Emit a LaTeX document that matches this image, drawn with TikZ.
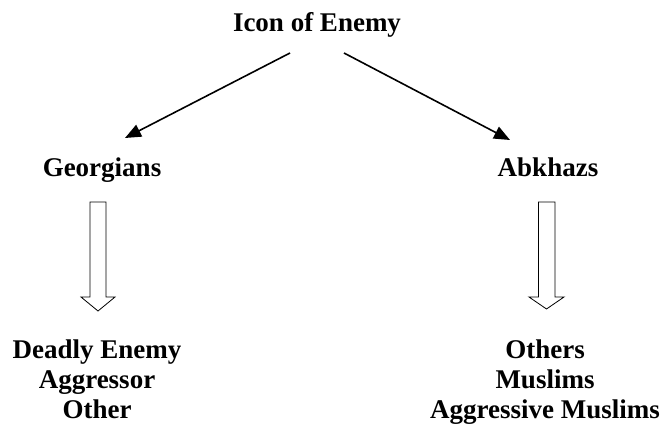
\documentclass[tikz,border=0pt]{standalone}
\usepackage{fontspec}
\setmainfont{Liberation Serif}
\usetikzlibrary{arrows.meta}
\begin{document}
\begin{tikzpicture}[x=1pt,y=-1pt,
  lbl/.style={font=\bfseries\fontsize{27}{30}\selectfont, inner sep=0pt, anchor=base},
  conn/.style={line width=1.6pt, -{Triangle[length=16pt,width=13pt]}},
  hollow/.style={draw, line width=0.8pt, fill=white}]
\useasboundingbox (0,0) rectangle (668,438);
\node[lbl] (icon) at (317,32) {Icon of Enemy};
\node[lbl] (geo) at (102,177) {Georgians};
\node[lbl] (abk) at (548,177) {Abkhazs};
\node[lbl] (g1) at (97,358) {Deadly Enemy};
\node[lbl] (g2) at (97,388) {Aggressor};
\node[lbl] (g3) at (97,418) {Other};
\node[lbl] (a1) at (545,358) {Others};
\node[lbl] (a2) at (545,388) {Muslims};
\node[lbl] (a3) at (545,418) {Aggressive Muslims};
\coordinate (s1) at (290,53);
\coordinate (e1) at (125,138);
\coordinate (s2) at (344,53);
\coordinate (e2) at (510,140);
\draw[conn] (s1) -- (e1);
\draw[conn] (s2) -- (e2);
\draw[hollow] (90,202) -- (106,202) -- (106,297) -- (115,297) -- (98,311) -- (81,297) -- (90,297) -- cycle;
\draw[hollow] (538.5,202) -- (555,202) -- (555,297) -- (564,297) -- (546.5,309) -- (529,297) -- (538.5,297) -- cycle;
\end{tikzpicture}
\end{document}
